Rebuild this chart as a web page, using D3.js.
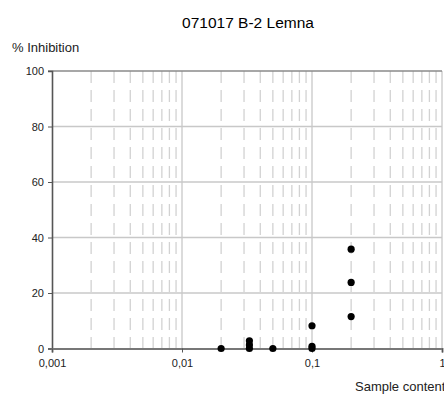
<!DOCTYPE html>
<html>
<head>
<meta charset="utf-8">
<script src="https://cdn.jsdelivr.net/npm/d3@7"></script>
<style>
  html, body { margin: 0; padding: 0; background: #fff; }
  svg { display: block; font-family: "Liberation Sans", Arial, sans-serif; }
</style>
</head>
<body>
<svg id="chart" width="444" height="394"></svg>
<script>
// Sample content vs. % inhibition measurements
const sampleContent = [0.02, 0.033, 0.033, 0.033, 0.05, 0.1, 0.1, 0.1, 0.2, 0.2, 0.2];
const inhibition    = [0,    0,     1.3,   2.8,   0,    0,   0.8, 8.2, 11.5, 23.8, 35.8];

const xMajorTicks = [0.001, 0.01, 0.1, 1];
const xTickLabels = ["0,001", "0,01", "0,1", "1"];
const yTicks = [0, 20, 40, 60, 80, 100];

const title = "071017 B-2 Lemna";
const yTitle = "% Inhibition";
const xTitle = "Sample content";

const svg = d3.select("#chart");

const x = d3.scaleLog().domain([0.001, 1]).range([52, 442]);
const y = d3.scaleLinear().domain([0, 100]).range([348.5, 71]);

// minor positions 2..9 in each decade
const minorTicks = [];
[0.001, 0.01, 0.1].forEach(d => {
  for (let k = 2; k <= 9; k++) minorTicks.push(d * k);
});

const grid = svg.append("g");

// dashed minor verticals
grid.selectAll("line.minor").data(minorTicks).join("line")
  .attr("x1", d => x(d)).attr("x2", d => x(d))
  .attr("y1", y(100)).attr("y2", y(0))
  .attr("stroke", "#d2d2d2").attr("stroke-width", 1.3)
  .attr("stroke-dasharray", "12,7");

// solid major verticals
grid.selectAll("line.major").data(xMajorTicks.slice(1)).join("line")
  .attr("x1", d => x(d)).attr("x2", d => x(d))
  .attr("y1", y(100)).attr("y2", y(0))
  .attr("stroke", "#c8c8c8").attr("stroke-width", 1.3);

// horizontal gridlines
grid.selectAll("line.h").data(yTicks.slice(1, -1)).join("line")
  .attr("x1", x(0.001)).attr("x2", x(1))
  .attr("y1", d => y(d)).attr("y2", d => y(d))
  .attr("stroke", "#c8c8c8").attr("stroke-width", 1.3);

// top border
svg.append("line")
  .attr("x1", x(0.001) - 4).attr("x2", x(1))
  .attr("y1", y(100)).attr("y2", y(100))
  .attr("stroke", "#8a8a8a").attr("stroke-width", 1.5);

// y axis
const yAxis = d3.axisLeft(y).tickValues(yTicks).tickSize(4).tickPadding(4)
  .tickFormat(d3.format("d"));
const gy = svg.append("g").attr("transform", `translate(${x(0.001)},0)`).call(yAxis);
gy.select(".domain").attr("stroke", "#555").attr("stroke-width", 1.6);
gy.selectAll(".tick line").attr("stroke", "#555");
gy.selectAll(".tick text").attr("font-size", 11).attr("fill", "#222")
  .attr("font-family", "Liberation Sans, Arial, sans-serif");

// x axis
const xAxis = d3.axisBottom(x).tickValues(xMajorTicks).tickSize(4).tickPadding(7)
  .tickFormat((d, i) => xTickLabels[i]);
const gx = svg.append("g").attr("transform", `translate(0,${y(0)})`).call(xAxis);
gx.select(".domain").attr("stroke", "#777").attr("stroke-width", 2);
gx.selectAll(".tick line").attr("stroke", "#555");
gx.selectAll(".tick text").attr("font-size", 11).attr("fill", "#222")
  .attr("font-family", "Liberation Sans, Arial, sans-serif");

// points
svg.append("g").selectAll("circle").data(sampleContent).join("circle")
  .attr("cx", d => x(d))
  .attr("cy", (d, i) => y(inhibition[i]))
  .attr("r", 3.6)
  .attr("fill", "#000");

// titles
svg.append("text").attr("x", 248).attr("y", 28)
  .attr("text-anchor", "middle").attr("font-size", 15.5).attr("fill", "#000")
  .text(title);

svg.append("text").attr("x", 12).attr("y", 52)
  .attr("font-size", 13).attr("fill", "#222")
  .text(yTitle);

svg.append("text").attr("x", 355).attr("y", 391)
  .attr("font-size", 13).attr("fill", "#222")
  .text(xTitle);
</script>
</body>
</html>
